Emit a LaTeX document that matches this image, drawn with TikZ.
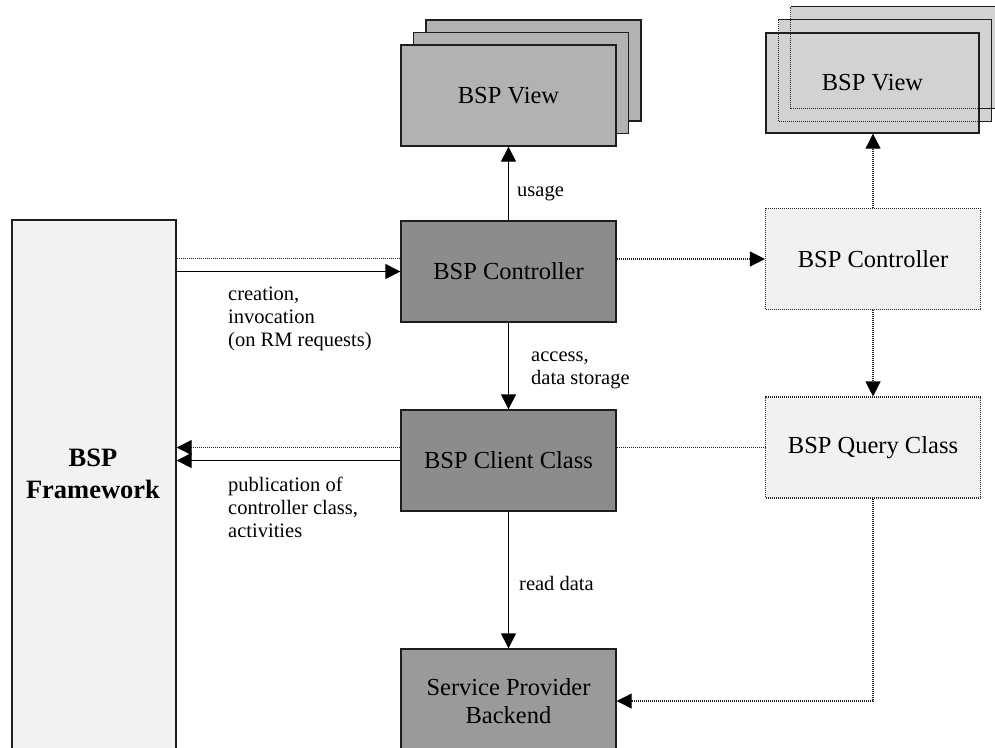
\documentclass[tikz,border=0pt]{standalone}
\usepackage{fontspec}
\setmainfont{Liberation Serif}
\usetikzlibrary{arrows.meta}

\definecolor{edge}{HTML}{1E1E1E}
\definecolor{fwfill}{HTML}{F2F2F2}
\definecolor{viewfill}{HTML}{B2B2B2}
\definecolor{corefill}{HTML}{8C8C8C}
\definecolor{backfill}{HTML}{9A9A9A}
\definecolor{ghostfill}{HTML}{F1F1F1}
\definecolor{ghostview}{HTML}{D2D2D2}
\definecolor{dotline}{HTML}{262626}

\tikzset{
  box/.style={rectangle, inner sep=0pt, minimum width=215pt, minimum height=101pt,
    align=center, font=\fontsize{24.5}{28}\selectfont},
  solidbox/.style={box, draw=edge, line width=1.4pt},
  ghostbox/.style={box, draw=dotline, line width=1.1pt, dash pattern=on 1pt off 1pt, fill=ghostfill},
  lbl/.style={anchor=west, align=left, inner sep=0pt, font=\fontsize{20.5}{23}\selectfont},
  tip/.style={-{Triangle[length=15pt,width=15pt,color=black]}},
  link/.style={line width=1.4pt, draw=black},
  dotlink/.style={line width=1.1pt, draw=dotline, dash pattern=on 1pt off 1pt},
}

\begin{document}
\begin{tikzpicture}[x=1pt, y=-1pt]
\useasboundingbox (0,0) rectangle (995,747);
\clip (0,0) rectangle (995,747);

% framework column on the left (runs off the bottom edge)
\node[solidbox, fill=fwfill, minimum width=164pt, minimum height=540pt] (fw) at (94,490) {};
\node[font=\fontsize{26.5}{32}\selectfont\bfseries, align=center] (fwtext) at (93,474) {BSP\\Framework};

% stacked views (left, solid)
\node[solidbox, fill=viewfill] (view3) at (533.5,70.5) {};
\node[solidbox, fill=viewfill] (view2) at (521,83) {};
\node[solidbox, fill=viewfill] (view)  at (508.5,95.5) {BSP View};

% core chain
\node[solidbox, fill=corefill] (ctl) at (508.5,271.5) {BSP Controller};
\node[solidbox, fill=corefill] (cli) at (508.5,460.5) {BSP Client Class};
\node[solidbox, fill=backfill, minimum height=104pt] (spb) at (508.5,701) {Service Provider\\Backend};

% alternative chain (dotted)
\node[ghostbox] (rctl) at (873,259) {BSP Controller};
\node[ghostbox] (qry)  at (873,447.5) {BSP Query Class};

% stacked views (right, see-through)
\node[box, fill=ghostview, minimum width=213pt, minimum height=101pt] (rview3) at (897.5,57.5) {};
\node[box, fill=ghostview, minimum width=213pt, minimum height=101pt] (rview2) at (885,70.5) {};
\node[box, fill=ghostview, draw=edge, line width=1.4pt, minimum width=213pt, minimum height=100pt] (rview) at (872.5,83) {BSP View};
\draw[line width=1.3pt, draw=edge] (rview2.north west) -- (rview2.north east) -- (rview2.south east) -- (rview2.south east -| rview.east);
\draw[dotlink] (rview2.south -| rview.east) -- (rview2.south west) -- (rview2.north west);
\draw[line width=1.3pt, draw=edge] (rview3.north west) -- (rview3.north east) -- (rview3.south east) -- (rview3.south east -| rview.east);
\draw[dotlink] (rview3.south -| rview.east) -- (rview3.south west) -- (rview3.north west);

% connectors: framework <-> core
\draw[dotlink] ([yshift=13pt]ctl.west -| fw.east) -- ([yshift=13pt]ctl.west);
\draw[link, tip] (ctl.west -| fw.east) -- (ctl.west);
\draw[dotlink, tip] ([yshift=13pt]cli.west) -- ([yshift=13pt]cli.west -| fw.east);
\draw[link, tip] (cli.west) -- (cli.west -| fw.east);

% connectors: core chain
\draw[link, tip] (ctl.north) -- (view.south);
\draw[link, tip] (ctl.south) -- (cli.north);
\draw[link, tip] (cli.south) -- (spb.north);

% connectors: alternative chain
\draw[dotlink, tip] (rctl.west -| ctl.east) -- (rctl.west);
\draw[dotlink] (cli.east |- qry.west) -- (qry.west);
\draw[dotlink, tip] (rctl.north) -- (rview.south -| rctl.north);
\draw[dotlink, tip] (rctl.south) -- (qry.north);
\draw[dotlink, tip] (qry.south) |- (spb.east);

% connector labels
\node[lbl] (l-usage) at (517,193) {usage};
\node[lbl] (l-create) at (228,319) {creation,\\invocation\\(on RM requests)};
\node[lbl] (l-access) at (531,370) {access,\\data storage};
\node[lbl] (l-publish) at (228,507) {publication of\\controller class,\\activities};
\node[lbl] (l-read) at (519,583) {read data};
\end{tikzpicture}
\end{document}
